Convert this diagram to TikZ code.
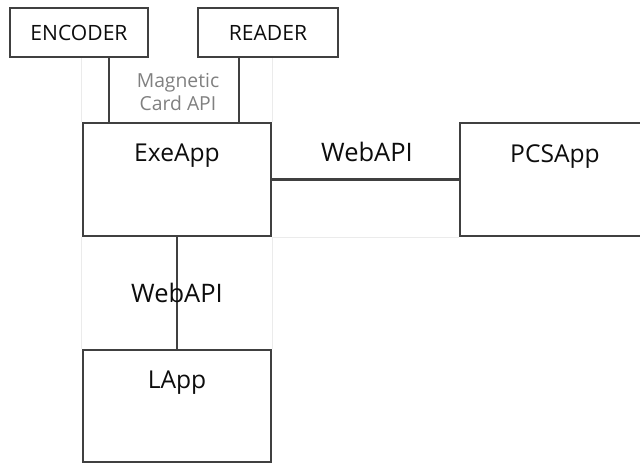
\documentclass[tikz,border=0pt]{standalone}
\usepackage{fontspec}
\setmainfont{Open Sans}
\usetikzlibrary{positioning}
\tikzset{
  box/.style={draw=black!75, line width=1.2pt, minimum width=3.76cm, minimum height=2.26cm, inner sep=0pt},
  smallbox/.style={draw=black!75, line width=1.2pt, minimum height=0.98cm, inner sep=0pt, font=\fontsize{12}{14}\selectfont, text=black!95},
  boxname/.style={inner sep=0pt, font=\fontsize{14}{16}\selectfont, text=black!95},
  apiname/.style={inner sep=1pt, font=\fontsize{14.5}{17}\selectfont, text=black!95},
  link/.style={draw=black!75, line width=1.2pt},
  grid/.style={draw=black!8, line width=0.6pt}
}
\begin{document}
\begin{tikzpicture}[x=0.02cm, y=-0.02cm]
                \useasboundingbox (0,0) rectangle (640,464);
                % the boxes
                \node[smallbox, minimum width=2.76cm] (encoder) at (79,32.5) {ENCODER};
                \node[smallbox, minimum width=2.8cm] (reader) at (268,32.5) {READER};
                \node[box] (exeapp) at (177,179.5) {};
                \node[box, minimum width=3.8cm] (pcsapp) at (555,179.5) {};
                \node[box, minimum height=2.24cm] (lapp) at (177,406) {};
                \node[boxname, below=0.44cm of exeapp.north] (exeappname) {ExeApp};
                \node[boxname, below=0.44cm of pcsapp.north] (pcsappname) {PCSApp};
                \node[boxname, below=0.44cm of lapp.north] (lappname) {LApp};
                % faint table lines behind
                \draw[grid] (exeapp.north west) -- (exeapp.north west |- encoder.south);
                \draw[grid] (exeapp.north east) -- (exeapp.north east |- reader.south);
                \draw[grid] (exeapp.south west) -- (lapp.north west);
                \draw[grid] (exeapp.south east) -- (lapp.north east);
                \draw[grid] (exeapp.south east) -- (pcsapp.south west);
                % the links
                \draw[link] ([xshift=0.54cm]exeapp.north west) -- ([xshift=0.54cm]exeapp.north west |- encoder.south);
                \draw[link] ([xshift=-0.66cm]exeapp.north east) -- ([xshift=-0.66cm]exeapp.north east |- reader.south);
                \draw[link] (exeapp) -- (pcsapp);
                \draw[link] (exeapp) -- (lapp);
                \node[align=center, inner sep=0pt, text=black!50, font=\fontsize{11}{13}\selectfont] (cardapi) at (178,92) {Magnetic\\Card API};
                \node[apiname] (webapitop) at (367,152) {WebAPI};
                \node[apiname] (webapidown) at (177,293) {WebAPI};
            \end{tikzpicture}
\end{document}
